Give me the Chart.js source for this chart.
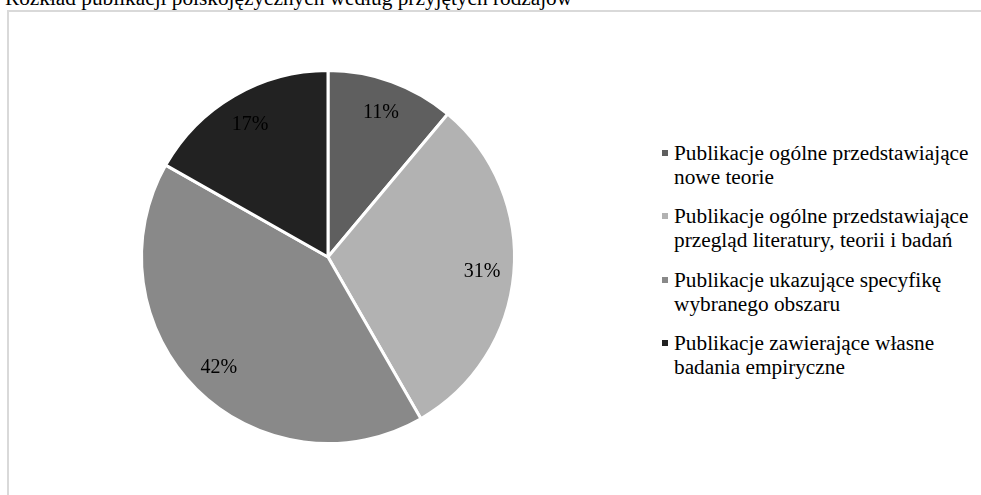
<!DOCTYPE html>
<html lang="pl">
<head>
<meta charset="utf-8">
<script src="https://cdn.jsdelivr.net/npm/chart.js@4.4.0/dist/chart.umd.min.js"></script>
<style>
  html, body { margin: 0; padding: 0; background: #fff; overflow: hidden; }
  body { width: 981px; height: 495px; position: relative; font-family: "Liberation Serif", "Times New Roman", serif; color: #000; }
  #title { position: absolute; left: 5px; top: -12px; font-size: 21.3px; line-height: 20px; white-space: nowrap; }
  #frame { position: absolute; left: 7px; top: 10px; width: 1100px; height: 700px; border: 2px solid #d9d9d9; box-sizing: border-box; }
  #wrap { position: absolute; left: 128px; top: 57px; width: 400px; height: 400px; }
  #legend { position: absolute; left: 661px; top: 141px; font-size: 21.3px; line-height: 24px; }
  .item { position: relative; padding-left: 13px; margin-bottom: 15.3px; white-space: nowrap; }
  .mk { position: absolute; left: 1px; top: 9px; width: 6px; height: 6px; }
</style>
</head>
<body>
<div id="frame"></div>
<div id="title"></div>
<div id="wrap"><canvas id="c" width="400" height="400"></canvas></div>
<div id="legend"></div>
<script>
const chartTitle = "Rozkład publikacji polskojęzycznych według przyjętych rodzajów";
const categories = [
  ["Publikacje ogólne przedstawiające", "nowe teorie"],
  ["Publikacje ogólne przedstawiające", "przegląd literatury, teorii i badań"],
  ["Publikacje ukazujące specyfikę", "wybranego obszaru"],
  ["Publikacje zawierające własne", "badania empiryczne"]
];
const shares = [11.1, 30.6, 41.5, 16.8];
const sliceColors = ["#5f5f5f", "#b2b2b2", "#898989", "#222222"];

document.getElementById("title").textContent = chartTitle;

const legend = document.getElementById("legend");
categories.forEach((lines, i) => {
  const it = document.createElement("div");
  it.className = "item";
  const mk = document.createElement("span");
  mk.className = "mk";
  mk.style.background = sliceColors[i];
  it.appendChild(mk);
  lines.forEach(l => {
    const d = document.createElement("div");
    d.textContent = l;
    it.appendChild(d);
  });
  legend.appendChild(it);
});

const pctLabels = {
  id: "pctLabels",
  afterDatasetsDraw(chart) {
    const ctx = chart.ctx;
    const meta = chart.getDatasetMeta(0);
    const total = shares.reduce((a, b) => a + b, 0);
    ctx.save();
    ctx.font = '20px "Liberation Serif", "Times New Roman", serif';
    ctx.fillStyle = "#000";
    ctx.textAlign = "center";
    ctx.textBaseline = "middle";
    meta.data.forEach((arc, i) => {
      const p = arc.getProps(["x", "y", "startAngle", "endAngle", "outerRadius"], true);
      const mid = (p.startAngle + p.endAngle) / 2;
      const r = p.outerRadius * 0.83;
      const txt = Math.round(shares[i] / total * 100) + "%";
      ctx.fillText(txt, p.x + Math.cos(mid) * r, p.y + Math.sin(mid) * r + 1);
    });
    ctx.restore();
  }
};

new Chart(document.getElementById("c"), {
  type: "pie",
  data: {
    labels: categories,
    datasets: [{
      data: shares,
      backgroundColor: sliceColors,
      borderColor: "#ffffff",
      borderWidth: 3
    }]
  },
  options: {
    responsive: false,
    animation: false,
    devicePixelRatio: 1,
    layout: { padding: 12 },
    plugins: {
      legend: { display: false },
      tooltip: { enabled: false },
      title: { display: false }
    }
  },
  plugins: [pctLabels]
});
</script>
</body>
</html>
